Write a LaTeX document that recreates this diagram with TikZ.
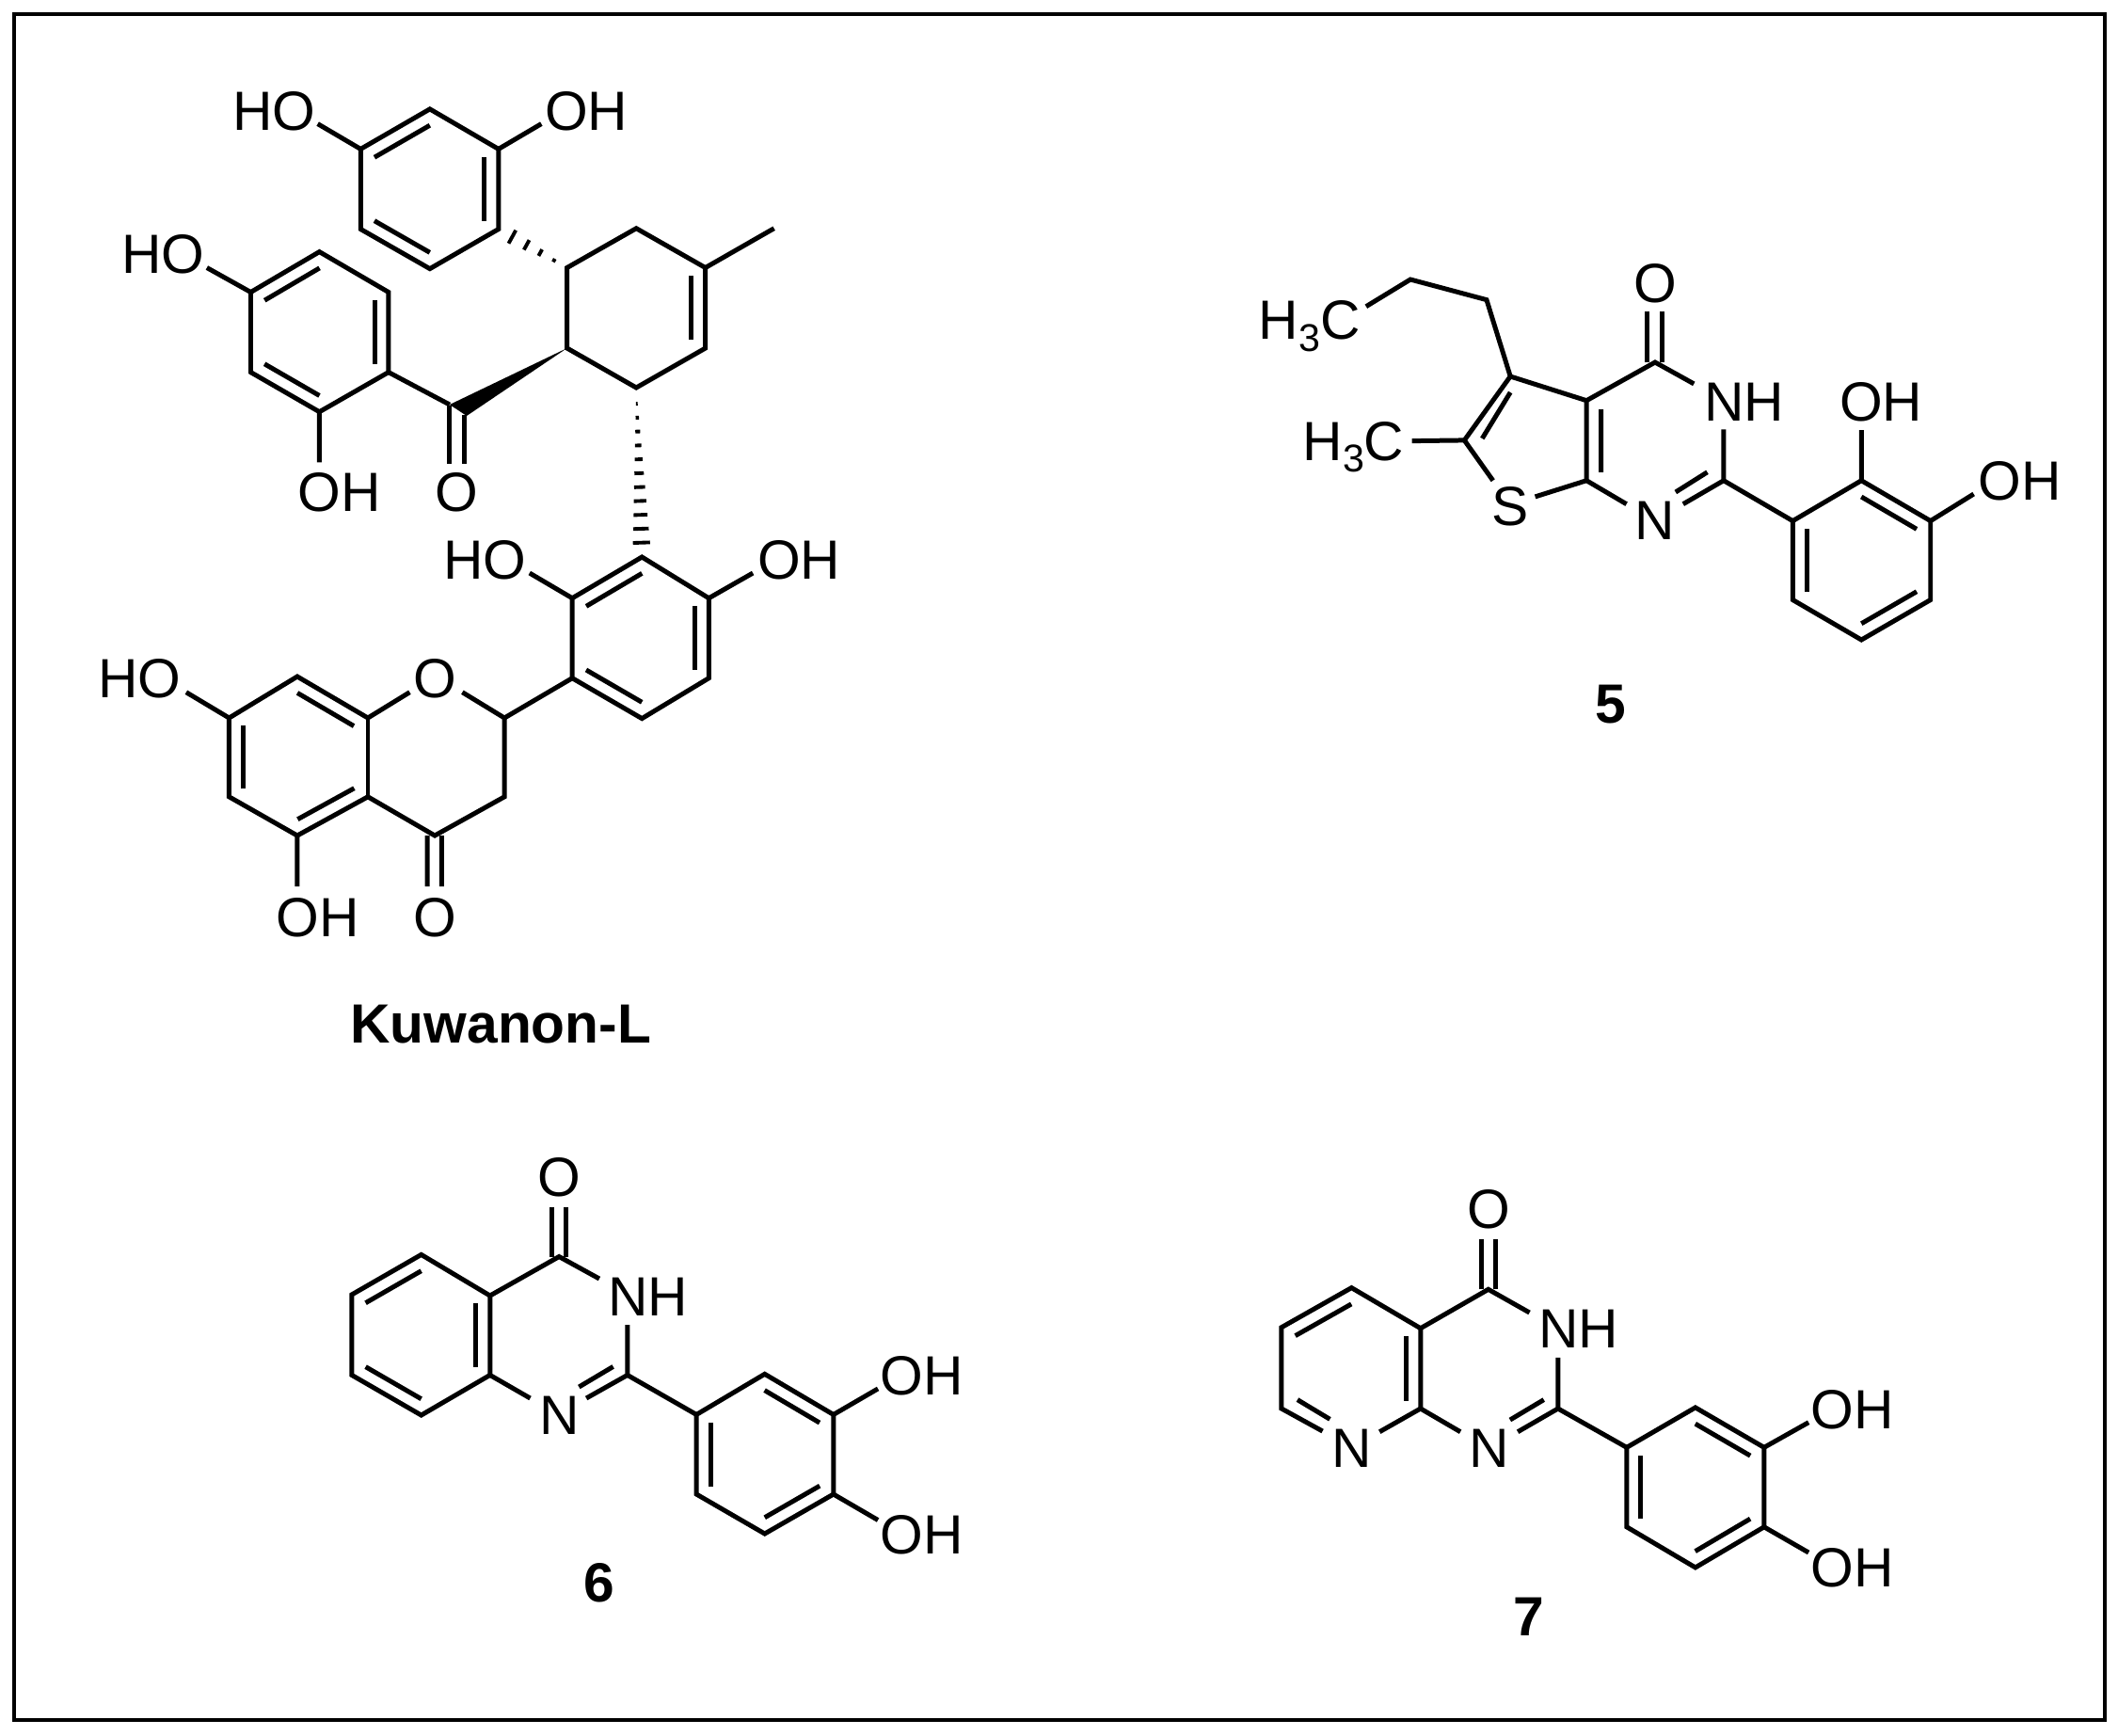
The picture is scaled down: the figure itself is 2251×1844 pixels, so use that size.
\documentclass[tikz,border=0pt]{standalone}
\usepackage{fontspec}
\setmainfont{Liberation Sans}
\usetikzlibrary{calc}
\newcommand{\atoms}[1]{\foreach \nm/\xx/\yy in {#1}{\coordinate (\nm) at (\xx,-\yy);}}
% inner line of a double bond: #3 = 90 (left of a->b) or -90
\newcommand{\dblin}[3]{\draw[bond] ($(#1)!0.1!(#2)!0.15cm!#3:(#2)$) -- ($(#2)!0.1!(#1)!0.15cm!-#3:(#1)$);}
% hashed wedge, narrow at #1, wide at #2
\newcommand{\hashw}[3]{\foreach \t in {#3}{\pgfmathsetmacro{\hw}{\t*0.10}
  \draw[hashline] ($(#1)!\t!(#2)!\hw cm!90:(#2)$) -- ($(#1)!\t!(#2)!\hw cm!-90:(#2)$);}}
\newcommand{\chain}[1]{\draw[bond] #1;}
\newcommand{\hthree}{H\raisebox{-0.22em}{\fontsize{11.7}{12}\selectfont 3}C}
\tikzset{
  x=0.01cm,y=0.01cm,
  bond/.style={line width=1.42pt,line cap=butt,line join=miter,black},
  hashline/.style={line width=1.1pt,black},
  lab/.style={inner sep=0pt,outer sep=0pt,text height=0.42cm,text depth=0pt,font=\fontsize{16.7}{20}\selectfont,text=black},
  title/.style={lab,font=\fontsize{16.7}{20}\selectfont\bfseries},
  frameline/.style={line width=1.14pt,draw=black}
}
\begin{document}
\begin{tikzpicture}
\useasboundingbox (0,0) rectangle (2251,-1844);
\fill[white] (0,0) rectangle (2251,-1844);
\draw[frameline] (15,-15) rectangle (2237,-1828);

% ---------- Kuwanon-L ----------
\begin{scope}[shift={(1.01,0)},xscale=0.98738]
\atoms{a1/461.7/115.9,a2/535.6/158.4,a3/535.6/243.5,a4/461.7/285.6,a5/387.2/243.5,a6/387.2/158.4,
 ea6/341/131.6,ea2/581.7/131.6,
 c1/609.4/284.5,c2/683.9/242.7,c3/758.3/284.5,c4/758.3/370,c5/683.9/412,c6/609.4/370,me/832.2/242.7,
 b1/342.8/267.6,b2/417.2/310.5,b3/417.2/395.6,b4/342.8/437.7,b5/268.9/395.6,b6/268.9/310.5,
 eb6/221.7/284.5,eb4/342.8/491.4,
 co/491/437.7,cw1/483/430,cw2/501.3/442,co1a/483.1/431,co1b/483.1/492.5,co2a/498.8/441,co2b/498.8/492.5,
 d1/690/592,d2/762/635.7,d3/762/720.7,d4/690/763.6,d5/615/720.7,d6/615/635.7,
 ed6/569/609,ed2/809.4/609,
 f2/542/763,f3/542/846.8,f4/467/888,f4a/395/846.8,f5/319/888,f6/245.6/846.8,f7/245.6/763,f8/319/719,f8a/395/763,
 eo1/496.7/735.7,eo2/440/735.7,ef7/199.4/735.7,ef5/319/942,
 cf1a/459/888,cf1b/459/942,cf2a/474.5/888,cf2b/474.5/942}

\node[lab] (ho1) at (294,-117) {HO};
\node[lab] (oh1) at (630,-117) {OH};
\node[lab] (ho2) at (174.4,-269) {HO};
\node[lab] (oh2) at (364,-522) {OH};
\node[lab] (o1)  at (491,-522) {O};
\node[lab] (ho3) at (520.6,-594) {HO};
\node[lab] (oh3) at (859,-594) {OH};
\node[lab] (o2)  at (467,-720) {O};
\node[lab] (ho4) at (149.4,-720) {HO};
\node[lab] (oh4) at (341,-974) {OH};
\node[lab] (o3)  at (467,-974) {O};
\node[title] (kuw) at (538,-1087) {Kuwanon-L};

\chain{(a1)--(a2)--(a3)--(a4)--(a5)--(a6)--cycle}
\chain{(a6)--(ea6) (a2)--(ea2)}
\dblin{a1}{a6}{90}\dblin{a2}{a3}{-90}\dblin{a4}{a5}{-90}
\chain{(c1)--(c2)--(c3)--(c4)--(c5)--(c6)--cycle}
\chain{(c3)--(me)}
\dblin{c3}{c4}{-90}
\hashw{c1}{a3}{0.19,0.39,0.59,0.80}
\chain{(b1)--(b2)--(b3)--(b4)--(b5)--(b6)--cycle}
\chain{(b6)--(eb6) (b4)--(eb4) (b3)--(cw1)}
\dblin{b1}{b6}{90}\dblin{b2}{b3}{-90}\dblin{b4}{b5}{-90}
\fill[black] (c6) -- (cw1) -- (cw2) -- cycle;
\chain{(co1a)--(co1b) (co2a)--(co2b)}
\hashw{c5}{d1}{0.095,0.177,0.259,0.341,0.423,0.505,0.587,0.669,0.751,0.833,0.915}
\chain{(d1)--(d2)--(d3)--(d4)--(d5)--(d6)--cycle}
\chain{(d6)--(ed6) (d2)--(ed2) (d5)--(f2)}
\dblin{d1}{d6}{90}\dblin{d2}{d3}{-90}\dblin{d4}{d5}{-90}
\chain{(eo1)--(f2)--(f3)--(f4)--(f4a)--(f5)--(f6)--(f7)--(f8)--(f8a)--(eo2)}
\chain{(f8a)--(f4a)}
\chain{(f7)--(ef7) (f5)--(ef5) (cf1a)--(cf1b) (cf2a)--(cf2b)}
\dblin{f6}{f7}{-90}\dblin{f8}{f8a}{-90}\dblin{f4a}{f5}{-90}
\end{scope}

% ---------- 5 ----------
\begin{scope}[shift={(16.67,0)},xscale=0.98737]
\atoms{p4/1764.8/385,p4a/1691/425.7,p7a/1691/510.7,p2/1838.6/510.7,pc3/1609/400,pc2/1559.5/467.9,
 en1/1806.6/407.9,en2/1838.6/456.4,en3/1734/535.7,en4/1795/535.7,en4i/1786.9/523,en5i/1821/501.8,
 es1/1590.3/510.7,es2/1635.7/527.9,
 pr1/1583.4/318.6,pr2/1501.4/297,pr3/1453.7/325.7,em/1503/468.6,
 pd1a/1756/385,pd1b/1756/331.4,pd2a/1772.3/385,pd2b/1772.3/331.4,
 t1/1609/417,t2/1578.7/466,u1/1706.6/435,u2/1706.6/501.8,
 q1/1913/553.6,q2/1986.9/510.7,q3/2061.3/553.6,q4/2061.3/637.5,q5/1986.9/680,q6/1913/637.5,
 eq2/1986.9/457,eq3/2107.8/525}

\node[lab] (o5)  at (1764.8,-300) {O};
\node[lab] (nh5) at (1860.7,-426.8) {NH};
\node[lab] (n5)  at (1764.8,-552.9) {N};
\node[lab] (s5)  at (1609,-537.5) {S};
\node[lab] (oh5) at (2007.8,-426) {OH};
\node[lab] (oh6) at (2157,-510.7) {OH};
\node[lab] (me1) at (1392.5,-339.3) {\hthree};
\node[lab] (me2) at (1440,-468) {\hthree};
\node[title] (lb5) at (1717,-747) {5};

\chain{(pd1a)--(pd1b) (pd2a)--(pd2b)}
\chain{(en1)--(p4)--(p4a)--(p7a)--(en3)}
\chain{(en2)--(p2)--(en4) (en4i)--(en5i)}
\chain{(p4a)--(pc3)--(pc2)--(es1) (es2)--(p7a)}
\chain{(t1)--(t2) (u1)--(u2)}
\chain{(pc3)--(pr1)--(pr2)--(pr3) (em)--(pc2)}
\chain{(p2)--(q1)}
\chain{(q1)--(q2)--(q3)--(q4)--(q5)--(q6)--cycle}
\chain{(q2)--(eq2) (q3)--(eq3)}
\dblin{q2}{q3}{-90}\dblin{q6}{q1}{-90}\dblin{q4}{q5}{-90}
\end{scope}

% ---------- 6 ----------
\begin{scope}[shift={(4.5,0)},xscale=0.98714]
\atoms{r4/597.4/1335.5,r4a/523/1377,r8a/523/1461.4,r2/671/1461.4,
 re1/640.7/1359,re2/671/1408,re3/566.3/1486,re4/626.7/1486,re5/655.6/1452.4,re6/618.8/1474,
 r5/449/1333.4,r6/374.2/1375.9,r7/374.2/1461.4,r8/449/1504,
 rd1a/590/1335.5,rd1b/590/1282.8,rd2a/604.9/1335.5,rd2b/604.9/1282.8,
 v1/745.3/1503.4,v2/818.8/1460.3,v3/892.8/1503.4,v4/892.8/1588,v5/818.8/1630,v6/745.3/1588,
 ev3/940.7/1475.9,ev4/940.7/1615.5}

\node[lab] (o6)  at (597.4,-1250) {O};
\node[lab] (nh6) at (693,-1377) {NH};
\node[lab] (n6)  at (598,-1503.4) {N};
\node[lab] (oh7) at (988,-1461) {OH};
\node[lab] (oh8) at (988,-1630) {OH};
\node[title] (lb6) at (640.7,-1681) {6};

\chain{(rd1a)--(rd1b) (rd2a)--(rd2b)}
\chain{(re1)--(r4)--(r4a)--(r8a)--(re3)}
\chain{(re2)--(r2)--(re4) (re5)--(re6)}
\chain{(r4a)--(r5)--(r6)--(r7)--(r8)--(r8a)}
\dblin{r5}{r6}{90}\dblin{r7}{r8}{90}\dblin{r4a}{r8a}{-90}
\chain{(r2)--(v1)}
\chain{(v1)--(v2)--(v3)--(v4)--(v5)--(v6)--cycle}
\chain{(v3)--(ev3) (v4)--(ev4)}
\dblin{v2}{v3}{-90}\dblin{v6}{v1}{-90}\dblin{v4}{v5}{-90}
\end{scope}

% ---------- 7 ----------
\begin{scope}[shift={(17.23,0)},xscale=0.98714]
\atoms{s4/1585/1370.3,s4a/1512/1411.7,s8a/1512/1497,s2/1660/1497,
 se1/1629.3/1395,se2/1660/1442.8,se3/1554.9/1521.7,se4/1616.7/1521.7,se5/1644.7/1487.6,se6/1608.4/1509,
 se7/1467.9/1521.7,se8/1406.5/1521,se9/1379.5/1487.6,se10/1414.4/1508.3,
 s7/1362.3/1497,s6/1362.3/1410.7,s5/1437.7/1368.6,
 sd1a/1578/1370.3,sd1b/1578/1316.6,sd2a/1593/1370.3,sd2b/1593/1316.6,
 w1/1734/1538.3,w2/1807.9/1495.9,w3/1881.9/1538.3,w4/1881.9/1622.8,w5/1807.9/1665.9,w6/1734/1622.8,
 ew3/1929.8/1511.7,ew4/1929.8/1650}

\node[lab] (o7)   at (1585,-1284.8) {O};
\node[lab] (nh7)  at (1681.9,-1411.7) {NH};
\node[lab] (n7)   at (1585.6,-1538.3) {N};
\node[lab] (n8)   at (1437.7,-1538.3) {N};
\node[lab] (oh9)  at (1977,-1497) {OH};
\node[lab] (oh10) at (1977,-1665) {OH};
\node[title] (lb7) at (1628.4,-1717.6) {7};

\chain{(sd1a)--(sd1b) (sd2a)--(sd2b)}
\chain{(se1)--(s4)--(s4a)--(s8a)--(se3)}
\chain{(se2)--(s2)--(se4) (se5)--(se6)}
\chain{(s8a)--(se7) (se8)--(s7)--(s6)--(s5)--(s4a)}
\chain{(se9)--(se10)}
\dblin{s5}{s6}{90}\dblin{s4a}{s8a}{-90}
\chain{(s2)--(w1)}
\chain{(w1)--(w2)--(w3)--(w4)--(w5)--(w6)--cycle}
\chain{(w3)--(ew3) (w4)--(ew4)}
\dblin{w2}{w3}{-90}\dblin{w6}{w1}{-90}\dblin{w4}{w5}{-90}
\end{scope}
\end{tikzpicture}
\end{document}
